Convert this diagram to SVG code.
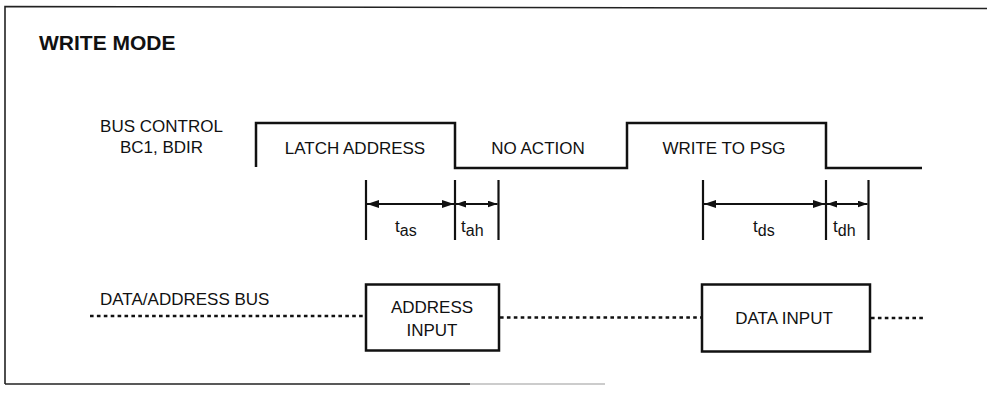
<svg xmlns="http://www.w3.org/2000/svg" width="987" height="396" viewBox="0 0 987 396">
<style>
text{font-family:"Liberation Sans",Arial,sans-serif;fill:#111;font-size:17px}
.c{text-anchor:middle}
.title{font-weight:bold;font-size:21px}
.wave{fill:none;stroke:#111;stroke-width:2.5}
.box{fill:#fff;stroke:#111;stroke-width:2.5}
.tick{stroke:#111;stroke-width:2.2}
.dim{stroke:#111;stroke-width:2}
.dot{stroke:#111;stroke-width:2.6;stroke-dasharray:3.6 3.3;fill:none}
.frame{fill:none;stroke:#222;stroke-width:1.6}
</style>
<defs>
<marker id="ah" viewBox="0 0 12 8" refX="12" refY="4" markerWidth="12" markerHeight="8" markerUnits="userSpaceOnUse" orient="auto-start-reverse"><path d="M0,0 L12,4 L0,8 z" fill="#111"/></marker>
<marker id="ahs" viewBox="0 0 10 7" refX="10" refY="3.5" markerWidth="10" markerHeight="7" markerUnits="userSpaceOnUse" orient="auto-start-reverse"><path d="M0,0 L10,3.5 L0,7 z" fill="#111"/></marker>
</defs>
<rect width="987" height="396" fill="#fff"/>
<g id="frame">
<path class="frame" d="M5,384 V6.5 L987,8.5"/>
<path class="frame" d="M5,384 H470" />
<path d="M470,384 H605" stroke="#bbb" stroke-width="1.6"/>
</g>
<g id="title"><text class="title" x="39" y="50">WRITE MODE</text></g>
<g id="bus-control-label">
<text class="c" x="161.5" y="132">BUS CONTROL</text>
<text class="c" x="161.5" y="153">BC1, BDIR</text>
</g>
<g id="bus-control-wave">
<path class="wave" d="M256,167 V123 H455 V168 H627 V123 H826 V168 H922"/>
<text class="c" x="355" y="154">LATCH ADDRESS</text>
<text class="c" x="538" y="154">NO ACTION</text>
<text class="c" x="724" y="154">WRITE TO PSG</text>
</g>
<g id="data-bus-label"><text x="100" y="305">DATA/ADDRESS BUS</text></g>
<g id="address-input">
<rect class="box" x="366" y="284.5" width="133" height="66"/>
<text class="c" x="432" y="313">ADDRESS</text>
<text class="c" x="432" y="335.5">INPUT</text>
</g>
<g id="data-input">
<rect class="box" x="702" y="284.5" width="168" height="67"/>
<text class="c" x="784" y="324">DATA INPUT</text>
</g>
<g id="timing-labels">
<text x="395" y="232">t<tspan font-size="16" dy="3.5">as</tspan></text>
<text x="461" y="232">t<tspan font-size="16" dy="3.5">ah</tspan></text>
<text x="753" y="232">t<tspan font-size="16" dy="3.5">ds</tspan></text>
<text x="833" y="232">t<tspan font-size="16" dy="3.5">dh</tspan></text>
</g>
<g id="connectors">
<line class="tick" x1="366" y1="180" x2="366" y2="240"/>
<line class="tick" x1="455" y1="180" x2="455" y2="240"/>
<line class="tick" x1="498.5" y1="180" x2="498.5" y2="240"/>
<line class="tick" x1="703" y1="180" x2="703" y2="240"/>
<line class="tick" x1="826" y1="180" x2="826" y2="240"/>
<line class="tick" x1="868.5" y1="180" x2="868.5" y2="240"/>
<line class="dim" x1="367" y1="204" x2="454" y2="204" marker-start="url(#ah)" marker-end="url(#ah)"/>
<line class="dim" x1="456" y1="204" x2="497.5" y2="204" marker-start="url(#ahs)" marker-end="url(#ahs)"/>
<line class="dim" x1="704" y1="204" x2="825" y2="204" marker-start="url(#ah)" marker-end="url(#ah)"/>
<line class="dim" x1="827" y1="204" x2="867.5" y2="204" marker-start="url(#ahs)" marker-end="url(#ahs)"/>
<line class="dot" x1="90" y1="316" x2="365" y2="316"/>
<line class="dot" x1="500" y1="317.5" x2="701" y2="317.5"/>
<line class="dot" x1="871" y1="318" x2="923" y2="318"/>
</g>
</svg>
